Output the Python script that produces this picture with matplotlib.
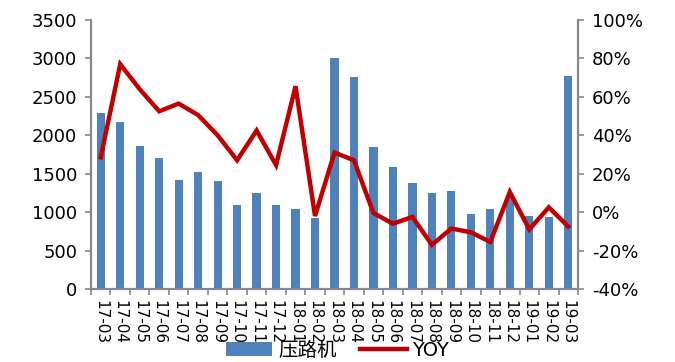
import matplotlib
matplotlib.use("Agg")
import matplotlib.pyplot as plt
from matplotlib.ticker import FuncFormatter, MultipleLocator

plt.rcParams["font.family"] = ["DejaVu Sans", "Noto Sans CJK SC"]

months = ["17-03", "17-04", "17-05", "17-06", "17-07", "17-08", "17-09", "17-10",
          "17-11", "17-12", "18-01", "18-02", "18-03", "18-04", "18-05", "18-06",
          "18-07", "18-08", "18-09", "18-10", "18-11", "18-12", "19-01", "19-02", "19-03"]
sales = [2290, 2170, 1860, 1700, 1420, 1520, 1400, 1090, 1250, 1090, 1040, 920, 3010,
         2760, 1850, 1590, 1380, 1250, 1280, 980, 1040, 1210, 950, 940, 2770]
yoy = [28.5, 77.0, 64.0, 52.5, 56.5, 50.5, 40.0, 27.0, 42.5, 24.5, 65.5, -2.0, 31.0,
       27.0, -0.5, -6.0, -2.5, -17.0, -8.5, -10.5, -15.5, 10.5, -9.0, 2.5, -7.5]

BAR = "#4F81BD"
LINE = "#C00000"
SPINE = "#888888"

fig = plt.figure(figsize=(6.75, 3.62), dpi=100)
ax = fig.add_axes([91 / 675, 1 - 289 / 362, (578 - 91) / 675, (289 - 20) / 362])
ax2 = ax.twinx()

x = list(range(len(months)))
bars = ax.bar(x, sales, width=0.42, color=BAR, label="压路机")
line, = ax2.plot(x, yoy, color=LINE, linewidth=3.2, label="YOY", solid_joinstyle="miter")

ax.set_xlim(-0.5, len(months) - 0.5)
ax.set_ylim(0, 3500)
ax.yaxis.set_major_locator(MultipleLocator(500))
ax2.set_ylim(-40, 100)
ax2.yaxis.set_major_locator(MultipleLocator(20))
ax2.yaxis.set_major_formatter(FuncFormatter(lambda v, _: f"{v:.0f}%"))

# labels sit under the bars, tick marks fall between categories
ax.set_xticks(x)
ax.set_xticklabels(months, rotation=270, fontsize=11)
ax.tick_params(axis="x", which="major", length=0, pad=8)
ax.set_xticks([i + 0.5 for i in range(-1, len(months))], minor=True)
ax.tick_params(axis="x", which="minor", length=4, color=SPINE, width=1.2)

ax.tick_params(axis="y", labelsize=13, length=4, color=SPINE, width=1.2, pad=6)
ax2.tick_params(axis="y", labelsize=13, length=4, color=SPINE, width=1.2, pad=6)

for a in (ax, ax2):
    a.spines["top"].set_visible(False)
    for side in ("left", "right", "bottom"):
        a.spines[side].set_color(SPINE)
        a.spines[side].set_linewidth(1.5)

fig.legend([bars, line], ["压路机", "YOY"], loc="center", bbox_to_anchor=(0.5, 1 - 350 / 362),
           ncol=2, frameon=False, fontsize=14, handlelength=2.4, handletextpad=0.3,
           columnspacing=1.2, borderpad=0.1)

fig.savefig("out.png", dpi=100)
